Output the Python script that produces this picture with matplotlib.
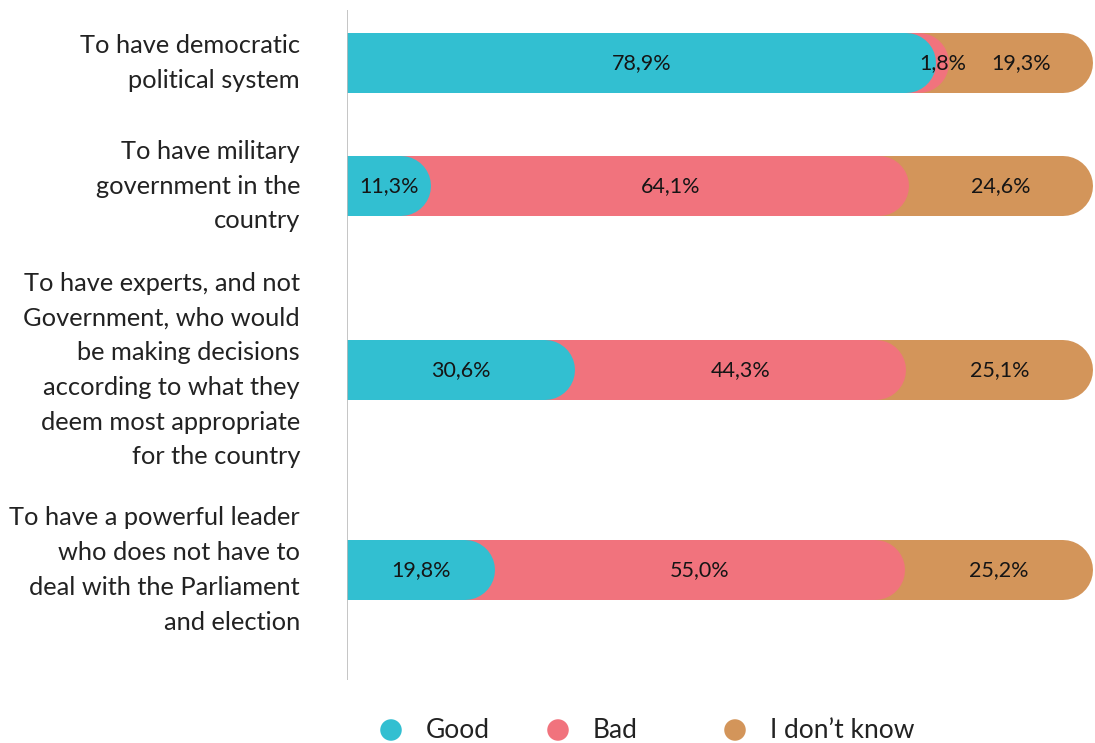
import matplotlib
matplotlib.use("Agg")
import matplotlib.pyplot as plt
import numpy as np

questions = [
    "To have democratic\npolitical system",
    "To have military\ngovernment in the\ncountry",
    "To have experts, and not\nGovernment, who would\nbe making decisions\naccording to what they\ndeem most appropriate\nfor the country",
    "To have a powerful leader\nwho does not have to\ndeal with the Parliament\nand election",
]
good = [78.9, 11.3, 30.6, 19.8]
bad = [1.8, 64.1, 44.3, 55.0]
dont_know = [19.3, 24.6, 25.1, 25.2]
series_names = ["Good", "Bad", "I don\u2019t know"]
colors = ["#32BFD1", "#F1737D", "#D3955A"]

# bar centres in pixel rows (axes y runs top-down in pixels)
row_y = [63, 186, 370, 570]

W, H = 1095, 743
fig = plt.figure(figsize=(W / 100, H / 100), dpi=100)
plt.rcParams["font.family"] = ["Lato", "DejaVu Sans"]

ax_left, ax_top, ax_bot = 347, 10, 680
ax = fig.add_axes([ax_left / W, 1 - ax_bot / H, 1 - ax_left / W, (ax_bot - ax_top) / H])
xmax = 100 * (W - ax_left) / 746
ax.set_xlim(0, xmax)
ax.set_ylim(ax_bot, ax_top)
ax.axis("off")
ax.axvline(0, color="#bbbbbb", lw=1.2, zorder=10)

bar_px = 60
cap = (bar_px / 2) * xmax / (W - ax_left)  # cap radius in data units
lw = bar_px * 72 / 100

data = np.array([good, bad, dont_know])
cum = np.cumsum(data, axis=0)

for i, y in enumerate(row_y):
    # draw from the last segment back so earlier ones sit on top
    for k in range(2, -1, -1):
        end = cum[k, i]
        ax.plot([-cap * 2, end - cap], [y, y], color=colors[k], lw=lw,
                solid_capstyle="round", zorder=2 + (3 - k))
    for k in range(3):
        start = cum[k, i] - data[k, i]
        ax.text(start + data[k, i] / 2, y, f"{data[k, i]:.1f}%".replace(".", ","),
                ha="center", va="center", fontsize=15.5, color="#151515",
                zorder=10)

for q, y in zip(questions, row_y):
    fig.text(300 / W, 1 - y / H, q, ha="right", va="center", fontsize=18.3,
             color="#222222", linespacing=1.62)

# legend along the bottom
leg_x = [391, 558, 735]
for name, c, x in zip(series_names, colors, leg_x):
    fig.text((x + 35) / W, 1 - 730 / H, name, ha="left", va="center",
             fontsize=19, color="#222222")
lax = fig.add_axes([0, 0, 1, 1], facecolor="none")
lax.set_xlim(0, W)
lax.set_ylim(H, 0)
lax.axis("off")
lax.scatter(leg_x, [730] * 3, s=240, c=colors, linewidths=0)

fig.savefig("out.png", dpi=100)
